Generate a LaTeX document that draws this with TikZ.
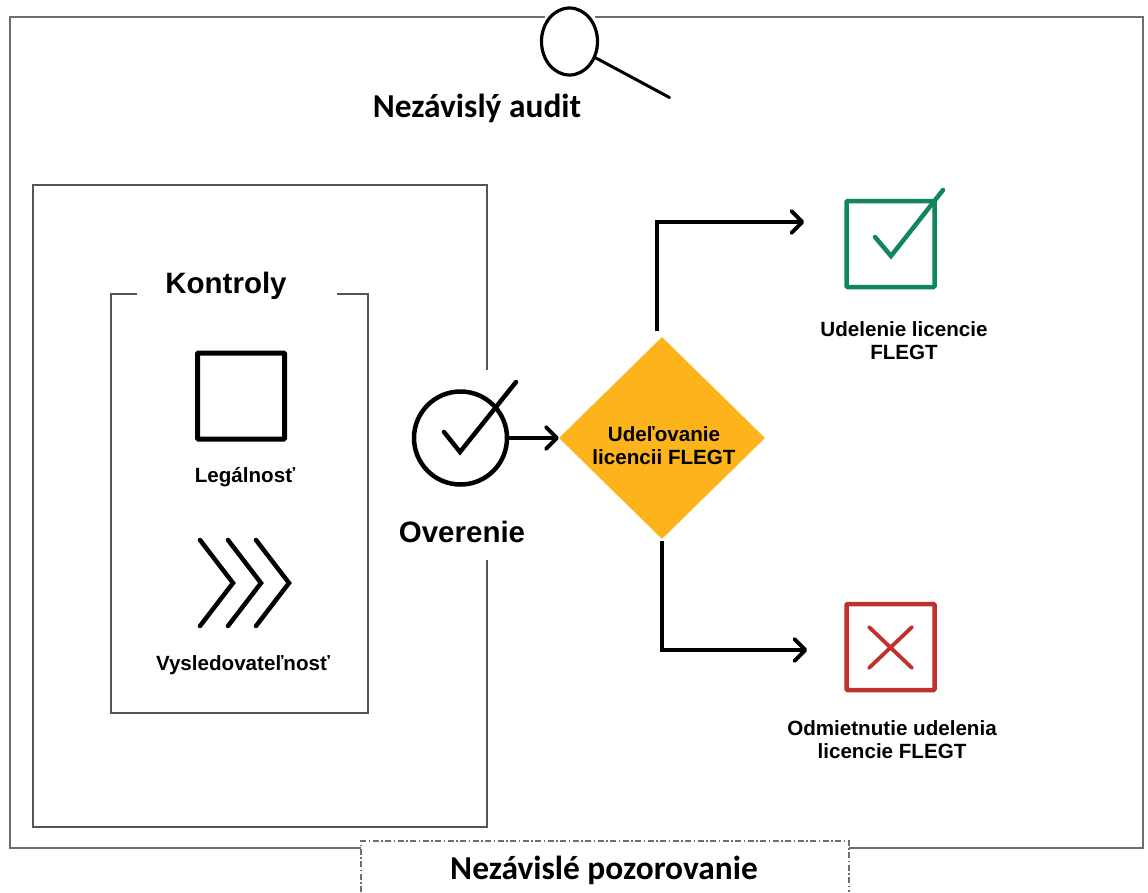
\documentclass[tikz,border=0pt]{standalone}
\usepackage{fontspec}
\setmainfont{Liberation Sans}
\newfontfamily\calib{Carlito}
\usetikzlibrary{shapes.geometric,arrows.meta,calc}
\definecolor{frameg}{RGB}{110,110,110}
\definecolor{boxg}{RGB}{85,85,85}
\definecolor{amber}{RGB}{253,179,27}
\definecolor{okgreen}{RGB}{15,134,96}
\definecolor{nored}{RGB}{190,50,45}
\tikzset{
  x=1pt,y=-1pt,
  frameline/.style={draw=frameg,line width=1.5pt},
  boxline/.style={draw=boxg,line width=1.3pt},
  icon/.style={draw=black,line width=4.5pt,line cap=round},
  flow/.style={draw=black,line width=3.8pt,-{Straight Barb[round,length=11pt,width=22pt,line width=3.8pt]}},
  lab/.style={font=\bfseries\fontsize{20.6}{23}\selectfont,align=center,text=black,inner sep=0pt},
  bighead/.style={font=\calib\bfseries\fontsize{33.4}{38}\selectfont,text=black,inner sep=0pt},
  midhead/.style={font=\bfseries\fontsize{29.5}{34}\selectfont,text=black,inner sep=0pt},
}
\begin{document}
\begin{tikzpicture}
\useasboundingbox (0,0) rectangle (1148,892);
\fill[white] (0,0) rectangle (1148,892);
% outer frame
\draw[frameline] (545,17) -- (10,17) -- (10,848) -- (361,848);
\draw[frameline] (595,17) -- (1143,17) -- (1143,848) -- (849,848);
% observer box
\draw[draw=frameg,line width=1.2pt,dash pattern=on 6pt off 2.5pt on 1.5pt off 2.5pt] (361,892) -- (361,841) -- (849,841) -- (849,892);
\node[bighead] (obs) at (604,870) {Nezávislé pozorovanie};
% audit
\node[ellipse,draw=black,line width=3.2pt,fill=white,minimum width=56pt,minimum height=67pt,inner sep=0pt] (lens) at (569.5,41.5) {};
\coordinate (handle) at (669.5,97.5);
\draw[draw=black,line width=3pt,line cap=round] (lens.-32) -- (handle);
\node[bighead] (audit) at (477,108.5) {Nezávislý audit};
% verification box
\draw[boxline] (487,370) -- (487,185) -- (33,185) -- (33,827) -- (487,827) -- (487,560);
% controls box
\draw[boxline] (137,294) -- (111,294) -- (111,713) -- (368,713) -- (368,294) -- (337,294);
\node[midhead] (ctrl) at (226,286) {Kontroly};
% legality
\node[draw=black,line width=5pt,rounded corners=1pt,minimum width=87pt,minimum height=86pt,inner sep=0pt] (legal) at (241,396) {};
\node[lab] (legaltxt) at (245,477) {Legálnosť};
% traceability
\foreach \dx in {0,28,56}{
  \draw[icon,line join=miter] ($(200,540)+(\dx,0)$) -- ($(233,583)+(\dx,0)$) -- ($(200,626)+(\dx,0)$);
}
\node[lab] (tracetxt) at (243,665) {Vysledovateľnosť};
% verification
\node[circle,draw=black,line width=4.5pt,minimum size=93pt,inner sep=0pt] (verify) at (460.5,438) {};
\draw[icon] (444,432) -- (460,452) -- (516,382);
\node[midhead] (overtxt) at (462,532) {Overenie};
% decision
\node[diamond,fill=amber,minimum width=206pt,minimum height=202pt,inner sep=0pt] (dec) at (662,438) {};
\node[lab] (dectxt) at (664,446) {Udeľovanie\\licencii FLEGT};
% outcomes
\node[draw=okgreen,line width=4.5pt,rounded corners=1pt,minimum width=88pt,minimum height=86pt,inner sep=0pt] (yes) at (890.5,244) {};
\draw[icon,draw=okgreen] (875,237) -- (891,256) -- (943,190);
\node[draw=nored,line width=4.5pt,rounded corners=1pt,minimum width=88pt,minimum height=86pt,inner sep=0pt] (no) at (890.5,647) {};
\draw[icon,draw=nored,line width=3.8pt] (869,627) -- (912,668) (912,627) -- (869,668);
\node[lab] (yestxt) at (904,341) {Udelenie licencie\\FLEGT};
\node[lab] (notxt) at (892,740) {Odmietnutie udelenia\\licencie FLEGT};
% connectors
\draw[flow] (verify.east) -- (dec.west);
\coordinate (upstart) at ($(dec.north)+(-5,-6)$);
\draw[flow] (upstart) |- ($(yes.west)+(-40,-22)$);
\coordinate (downstart) at ($(dec.south)+(0,2)$);
\draw[flow] (downstart) |- ($(no.west)+(-37,3)$);
\end{tikzpicture}
\end{document}
